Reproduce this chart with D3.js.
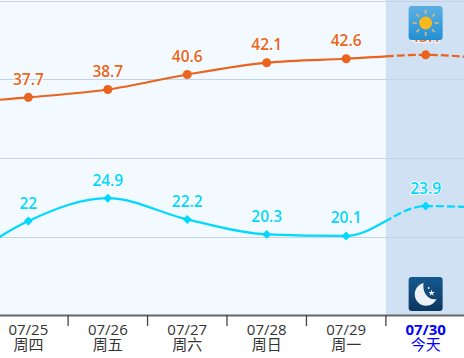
<!DOCTYPE html>
<html>
<head>
<meta charset="utf-8">
<script src="https://cdn.jsdelivr.net/npm/d3@7"></script>
<style>
  html, body { margin: 0; padding: 0; background: #fff; }
  svg { display: block; }
  text { font-family: "Open Sans", "Noto Sans CJK SC", sans-serif; }
</style>
</head>
<body>
<div id="chart"></div>
<script>
// first and last day are off screen, only there so the curves run out of the frame
var days = ["07/24", "07/25", "07/26", "07/27", "07/28", "07/29", "07/30", "07/31"];
var weekdays = ["周三", "周四", "周五", "周六", "周日", "周一", "今天", "周三"];
var highs = [36.9, 37.7, 38.7, 40.6, 42.1, 42.6, 43.1, 42.3];
var lows = [15.5, 22, 24.9, 22.2, 20.3, 20.1, 23.9, 23.5];
var gridValues = [50, 40, 30, 20];
var today = "07/30";

var wd = 464;
var ht = 358;

var svg = d3.select("#chart").append("svg")
  .attr("width", wd)
  .attr("height", ht);

var x = d3.scaleBand().domain(days).range([-90.8, 544.8]);
var y = d3.scaleLinear().domain([10, 50]).range([315.5, 0.5]);

function cx(d) { return x(d) + x.bandwidth() / 2; }

// plot background and today's band
svg.append("rect").attr("x", 0).attr("y", 0).attr("width", wd).attr("height", y(10))
  .attr("fill", "#f3faff");
svg.append("rect").attr("x", x(today)).attr("y", 0).attr("width", wd - x(today)).attr("height", y(10))
  .attr("fill", "#d1e1f4");

svg.selectAll(".grid").data(gridValues).enter().append("line")
  .attr("x1", 0).attr("x2", wd)
  .attr("y1", function (d) { return Math.round(y(d)) + 0.5; })
  .attr("y2", function (d) { return Math.round(y(d)) + 0.5; })
  .attr("stroke", "#c5d3e2").attr("stroke-width", 1);

// solid up to today, dashed after
var defs = svg.append("defs");
defs.append("clipPath").attr("id", "past").append("rect")
  .attr("x", 0).attr("y", 0).attr("width", x(today)).attr("height", ht);
defs.append("clipPath").attr("id", "future").append("rect")
  .attr("x", x(today)).attr("y", 0).attr("width", wd - x(today)).attr("height", ht);

var sky = defs.append("linearGradient").attr("id", "sky").attr("x1", 0).attr("y1", 0).attr("x2", 0).attr("y2", 1);
sky.append("stop").attr("offset", 0).attr("stop-color", "#5cb0e4");
sky.append("stop").attr("offset", 1).attr("stop-color", "#2190d4");
var night = defs.append("linearGradient").attr("id", "night").attr("x1", 0).attr("y1", 0).attr("x2", 0).attr("y2", 1);
night.append("stop").attr("offset", 0).attr("stop-color", "#15598f");
night.append("stop").attr("offset", 1).attr("stop-color", "#0c3860");

function drawSeries(values, color, symbol, size, rot) {
  var line = d3.line()
    .x(function (d, i) { return cx(days[i]); })
    .y(function (d) { return y(d); })
    .curve(d3.curveMonotoneX);

  svg.append("path").attr("d", line(values))
    .attr("fill", "none").attr("stroke", color).attr("stroke-width", 2.2)
    .attr("clip-path", "url(#past)");
  svg.append("path").attr("d", line(values))
    .attr("fill", "none").attr("stroke", color).attr("stroke-width", 2.2)
    .attr("stroke-dasharray", "8,3")
    .attr("clip-path", "url(#future)");

  var shown = values.slice(1, 7);
  svg.append("g").selectAll("path").data(shown).enter().append("path")
    .attr("d", d3.symbol().type(symbol).size(size))
    .attr("transform", function (d, i) { return "translate(" + cx(days[i + 1]) + "," + y(d) + ") rotate(" + rot + ")"; })
    .attr("fill", color);

  svg.append("g").selectAll("text").data(shown).enter().append("text")
    .attr("x", function (d, i) { return cx(days[i + 1]); })
    .attr("y", function (d) { return y(d) - 12.5; })
    .attr("text-anchor", "middle")
    .attr("font-size", 15.5)
    .attr("font-weight", 600)
    .attr("fill", color)
    .attr("stroke", "#fff")
    .attr("stroke-width", 2)
    .attr("stroke-opacity", 0.85)
    .attr("paint-order", "stroke")
    .text(function (d) { return d; });
}

drawSeries(highs, "#ea6420", d3.symbolCircle, 64, 0);
drawSeries(lows, "#00d8ff", d3.symbolSquare, 40, 45);

// bottom axis, labels on the days and separators between them
var axis = d3.axisBottom(x).tickValues(days.slice(1, 7)).tickSize(0).tickPadding(0).tickFormat("");
var axisG = svg.append("g").attr("transform", "translate(0,315.5)").call(axis);
axisG.select(".domain").remove();
svg.append("line").attr("x1", 0).attr("x2", wd).attr("y1", 315.5).attr("y2", 315.5)
  .attr("stroke", "#666").attr("stroke-width", 2);
svg.selectAll(".sep").data(days.slice(1, 6)).enter().append("line")
  .attr("x1", function (d) { return x(d) + x.bandwidth(); })
  .attr("x2", function (d) { return x(d) + x.bandwidth(); })
  .attr("y1", 315).attr("y2", 326)
  .attr("stroke", "#444").attr("stroke-width", 1.3);

var tickText = axisG.selectAll(".tick text")
  .attr("y", 0).attr("dy", null)
  .attr("font-size", 15)
  .attr("fill", function (d) { return d === today ? "#0000ff" : "#333"; });
tickText.append("tspan")
  .attr("x", 0).attr("y", 19.5)
  .attr("font-weight", function (d) { return d === today ? 700 : 400; })
  .text(function (d) { return d; });
tickText.append("tspan")
  .attr("x", 0).attr("y", 34.5)
  .text(function (d) { return weekdays[days.indexOf(d)]; });

// day and night icons
var iconX = cx(today) - 17;
var sun = svg.append("g").attr("transform", "translate(" + iconX + ",6)");
sun.append("rect").attr("width", 34).attr("height", 34).attr("rx", 3).attr("fill", "url(#sky)");
d3.range(8).forEach(function (i) {
  var a = i * Math.PI / 4;
  sun.append("line")
    .attr("x1", 17 + Math.cos(a) * 9).attr("y1", 17 + Math.sin(a) * 9)
    .attr("x2", 17 + Math.cos(a) * 13).attr("y2", 17 + Math.sin(a) * 13)
    .attr("stroke", "#c9b98a").attr("stroke-width", 1.8);
});
sun.append("circle").attr("cx", 17).attr("cy", 17).attr("r", 6.5).attr("fill", "#f6b81c");

var moon = svg.append("g").attr("transform", "translate(" + iconX + ",277)");
moon.append("rect").attr("width", 34).attr("height", 34).attr("rx", 3).attr("fill", "url(#night)");
moon.append("path").attr("d", "M15,6 A11.5,11.5 0 1 0 28,22 C20,24 13,15 15,6 Z").attr("fill", "#eef2f6");
moon.append("path").attr("d", d3.symbol().type(d3.symbolStar).size(14)).attr("transform", "translate(23,16)").attr("fill", "#eef2f6");
moon.append("circle").attr("cx", 20).attr("cy", 11).attr("r", 1).attr("fill", "#eef2f6");
</script>
</body>
</html>
